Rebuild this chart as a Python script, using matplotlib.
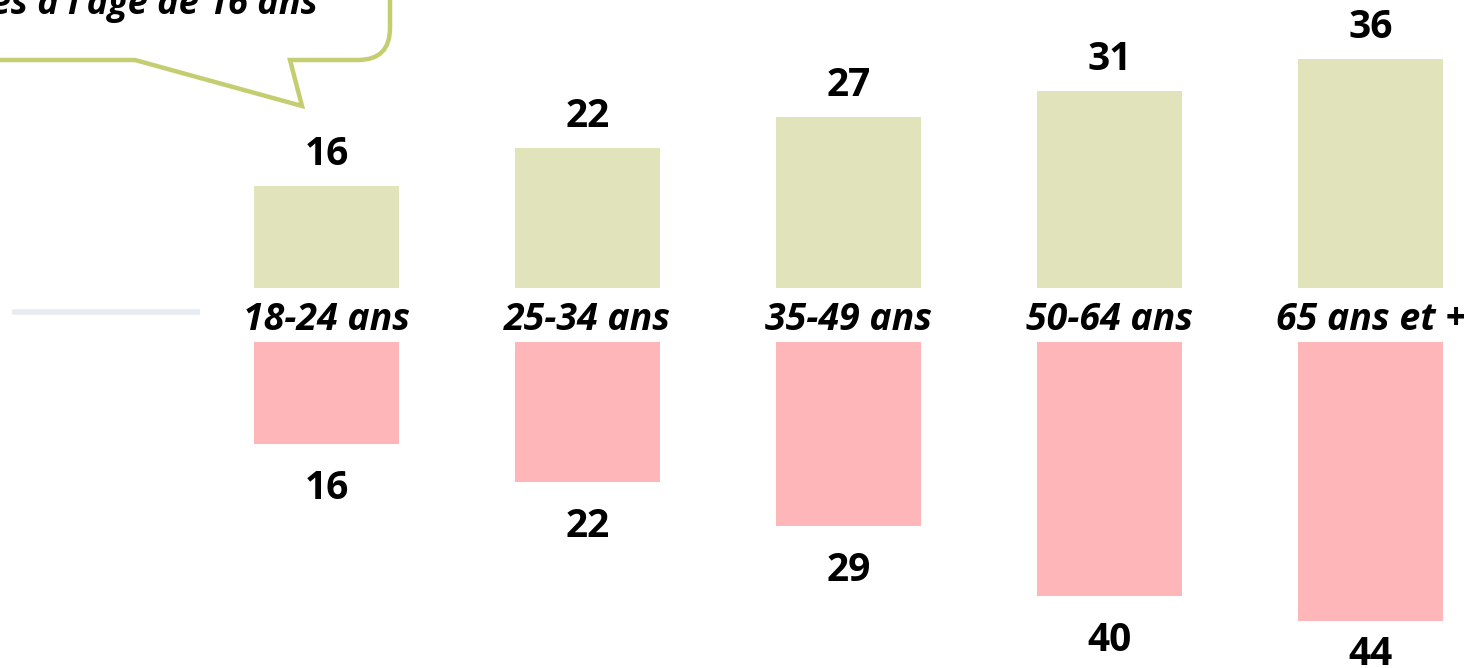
import matplotlib
matplotlib.use("Agg")
import matplotlib.pyplot as plt
from matplotlib.path import Path
from matplotlib.patches import PathPatch
from matplotlib.transforms import Affine2D

categories = ["18-24 ans", "25-34 ans", "35-49 ans", "50-64 ans", "65 ans et +"]
top_values = [16, 22, 27, 31, 36]
bottom_values = [16, 22, 29, 40, 44]
bubble_text = "ont quitté l'école ou les études à l'âge de 16 ans"

W, H = 1464, 668
fig = plt.figure(figsize=(W / 100, H / 100), dpi=100)
ax = fig.add_axes([0, 0, 1, 1])
ax.set_axis_off()

pxu = 6.35          # pixels per unit
step = 261.0        # pixels between categories
x0 = 326.5          # pixel centre of first category
ymid = 315.0        # pixel row of the axis centre
gap = 27.0 / pxu    # half gap between the two baselines

ax.set_xlim(-x0 / step, (W - x0) / step)
ax.set_ylim(-(H - ymid) / pxu, ymid / pxu)

xs = list(range(len(categories)))
bw = 145 / step
green = "#E1E4BA"
pink = "#FFB6B8"
font = ["Open Sans", "DejaVu Sans"]
wt = "bold"

ax.bar(xs, top_values, width=bw, bottom=gap, color=green, linewidth=0)
ax.bar(xs, [-v for v in bottom_values], width=bw, bottom=-gap, color=pink, linewidth=0)

ylow = ax.get_ylim()[0]
for x, v in zip(xs, top_values):
    ax.text(x, gap + v + 21 / pxu, str(v), ha="center", va="baseline",
            fontsize=28, fontweight=wt, family=font, color="black")
for x, v in zip(xs, bottom_values):
    yb = max(-gap - v - 55 / pxu, ylow + 3 / pxu)
    ax.text(x, yb, str(v), ha="center", va="baseline",
            fontsize=28, fontweight=wt, family=font, color="black")
for x, c in zip(xs, categories):
    ax.text(x, -15 / pxu, c, ha="center", va="baseline", fontsize=27,
            fontweight=wt, fontstyle="italic", family=font, color="black")

# faint axis fragment on the left
ax.plot([(12 - x0) / step, (200 - x0) / step], [3.5 / pxu, 3.5 / pxu],
        color="#E8ECF1", linewidth=4, solid_capstyle="butt")

# speech bubble (pixel coordinates, origin top-left)
px = Affine2D().scale(1 / W, -1 / H).translate(0, 1) + fig.transFigure
verts = [(-20, 60), (135, 60), (302, 106), (290, 60), (358, 60),
         (390, 60), (390, 28), (390, -20)]
codes = [Path.MOVETO, Path.LINETO, Path.LINETO, Path.LINETO, Path.LINETO,
         Path.CURVE3, Path.CURVE3, Path.LINETO]
bubble = PathPatch(Path(verts, codes), facecolor="none", edgecolor="#C4CD70",
                   linewidth=3.2, joinstyle="miter", transform=px)
fig.add_artist(bubble)
fig.text(318, 14, bubble_text, ha="right", va="baseline", fontsize=26,
         fontweight=wt, fontstyle="italic", family=font, color="black",
         transform=px)

fig.savefig("out.png", dpi=100, facecolor="white")
